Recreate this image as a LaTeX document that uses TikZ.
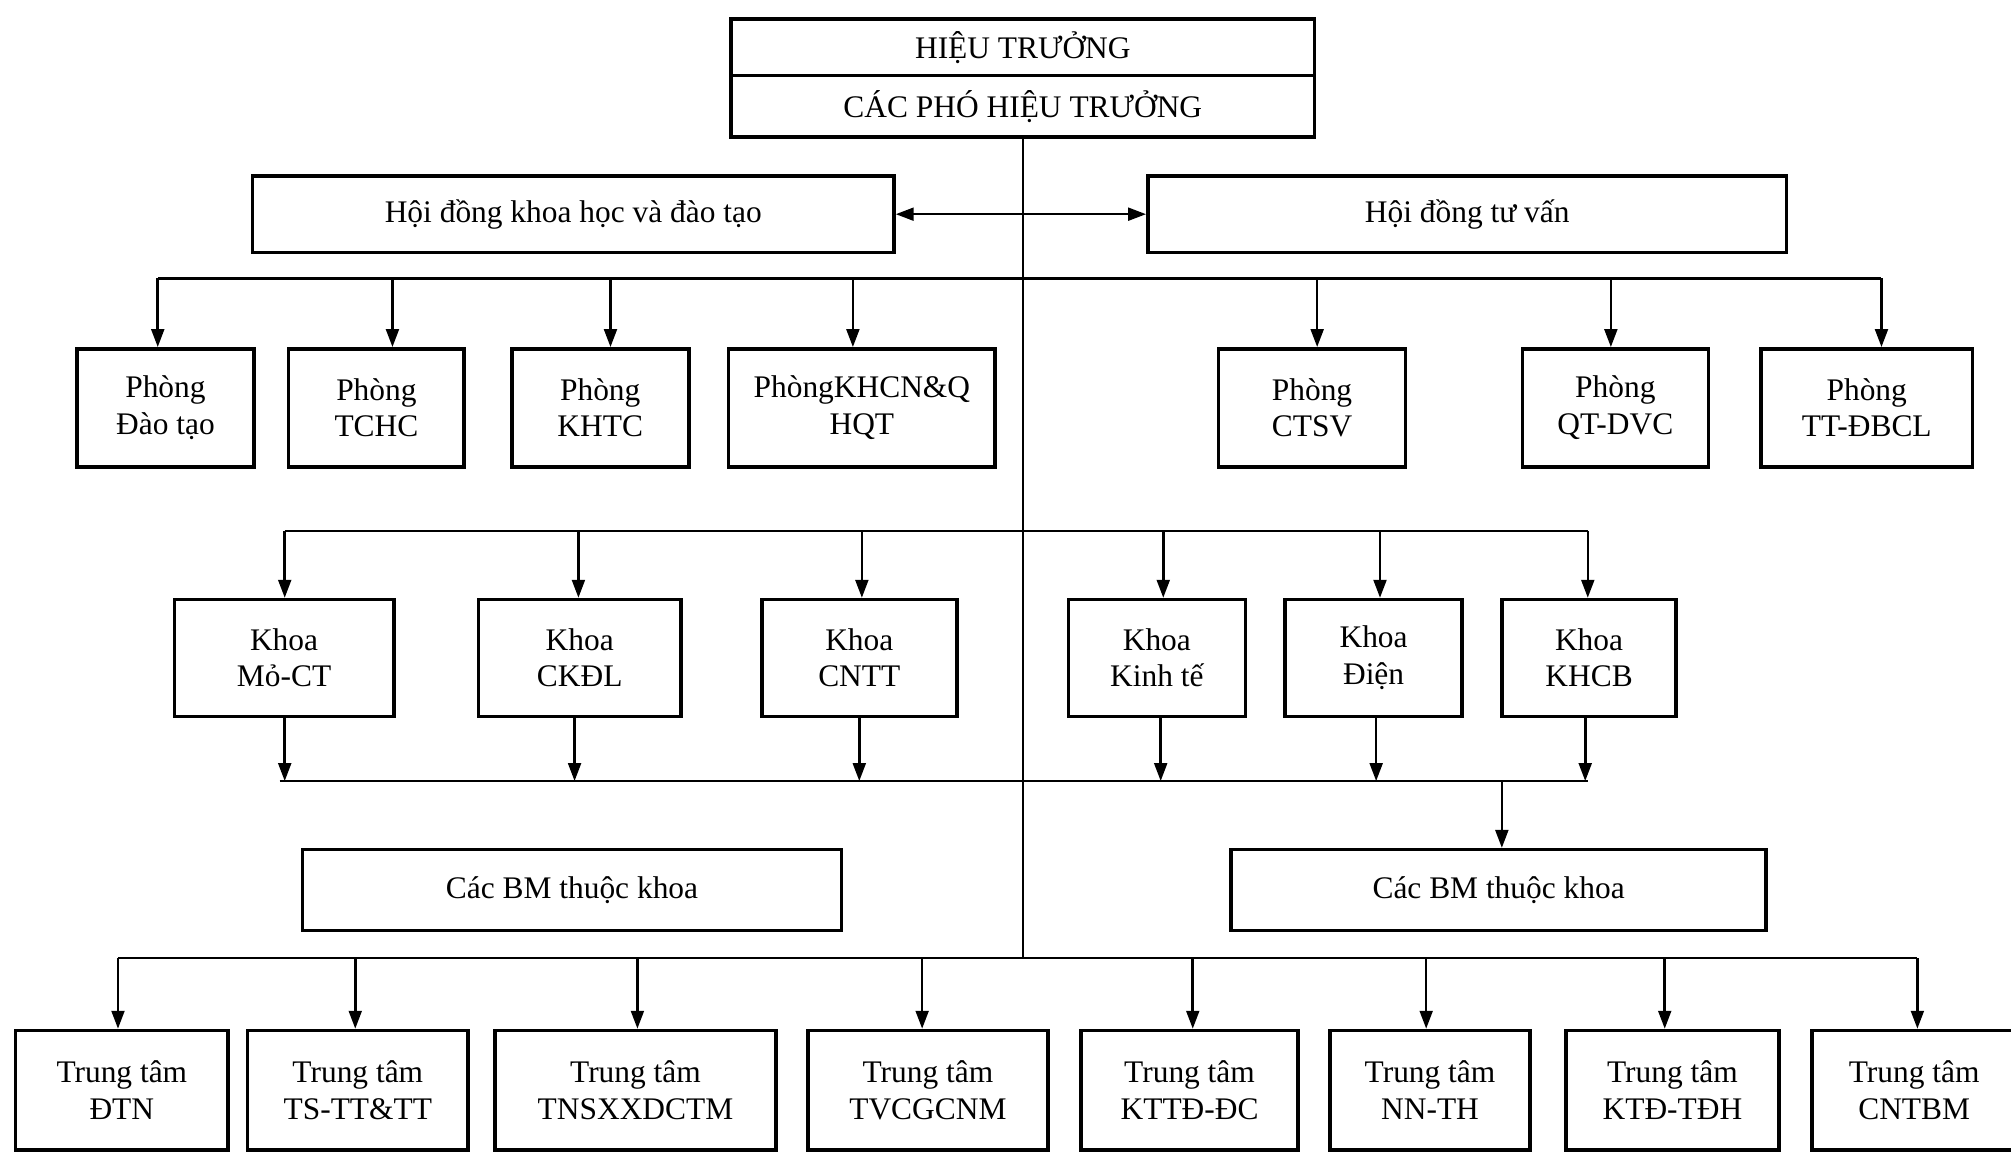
\documentclass[tikz,border=0pt]{standalone}
\usepackage{fontspec}
\setmainfont{Liberation Serif}
\usetikzlibrary{arrows.meta}
\begin{document}
\begin{tikzpicture}[x=1pt,y=-1pt,
  box/.style={draw=black, line width=2.8pt, rectangle, align=center, inner sep=0pt,
              font=\fontsize{24.5}{28.5}\selectfont},
  conn/.style={line width=2pt, draw=black},
  arr/.style={conn, -{Triangle[length=14pt,width=10pt]}},
  darr/.style={conn, {Triangle[length=14pt,width=10pt]}-{Triangle[length=14pt,width=10pt]}}]
\useasboundingbox (0,0) rectangle (1568,911);
\fill[white] (0,0) rectangle (1568,911);
\clip (0,0) rectangle (1568,911);

% top
\node[box, minimum width=455pt, minimum height=44pt] (ht) at (797.5,37) {HIỆU TRƯỞNG};
\node[box, minimum width=455pt, minimum height=48pt] (pht) at (797.5,83) {CÁC PHÓ HIỆU TRƯỞNG};

% councils
\node[box, minimum width=500pt, minimum height=60pt] (hdkh) at (447,167) {Hội đồng khoa học và đào tạo};
\node[box, minimum width=498pt, minimum height=60pt] (hdtv) at (1144,167) {Hội đồng tư vấn};
\draw[darr] (hdkh.east) -- (hdtv.west);

% row 1
\node[box, minimum width=138pt, minimum height=92pt] (pdt) at (129,318) {Phòng\\Đào tạo};
\node[box, minimum width=137pt, minimum height=92pt] (ptchc) at (293.5,318) {Phòng\\TCHC};
\node[box, minimum width=138pt, minimum height=92pt] (pkhtc) at (468,318) {Phòng\\KHTC};
\node[box, minimum width=208pt, minimum height=92pt] (pkhcn) at (672,318) {PhòngKHCN\&Q\\HQT};
\node[box, minimum width=146pt, minimum height=92pt] (pctsv) at (1023,318) {Phòng\\CTSV};
\node[box, minimum width=145pt, minimum height=92pt] (pqt) at (1259.5,318) {Phòng\\QT-DVC};
\node[box, minimum width=165pt, minimum height=92pt] (ptt) at (1455.5,318) {Phòng\\TT-ĐBCL};

% row 2
\node[box, minimum width=171pt, minimum height=91pt] (kmo) at (221.5,513) {Khoa\\Mỏ-CT};
\node[box, minimum width=158pt, minimum height=91pt] (kck) at (452,513) {Khoa\\CKĐL};
\node[box, minimum width=152pt, minimum height=91pt] (kcntt) at (670,513) {Khoa\\CNTT};
\node[box, minimum width=138pt, minimum height=91pt] (kkt) at (902,513) {Khoa\\Kinh tế};
\node[box, minimum width=138pt, minimum height=91pt] (kd) at (1071,513) {Khoa\\Điện};
\node[box, minimum width=136pt, minimum height=91pt] (kkhcb) at (1239,513) {Khoa\\KHCB};

% BM
\node[box, minimum width=420pt, minimum height=63pt] (bml) at (446,694) {Các BM thuộc khoa};
\node[box, minimum width=417pt, minimum height=63pt] (bmr) at (1168.5,694) {Các BM thuộc khoa};

% row 4
\node[box, minimum width=166pt, minimum height=93pt] (t1) at (95,850) {Trung tâm\\ĐTN};
\node[box, minimum width=172pt, minimum height=93pt] (t2) at (279,850) {Trung tâm\\TS-TT\&TT};
\node[box, minimum width=219pt, minimum height=93pt] (t3) at (495.5,850) {Trung tâm\\TNSXXDCTM};
\node[box, minimum width=187pt, minimum height=93pt] (t4) at (723.5,850) {Trung tâm\\TVCGCNM};
\node[box, minimum width=169pt, minimum height=93pt] (t5) at (927.5,850) {Trung tâm\\KTTĐ-ĐC};
\node[box, minimum width=156pt, minimum height=93pt] (t6) at (1115,850) {Trung tâm\\NN-TH};
\node[box, minimum width=166pt, minimum height=93pt] (t7) at (1304,850) {Trung tâm\\KTĐ-TĐH};
\node[box, minimum width=159pt, minimum height=93pt] (t8) at (1492.5,850) {Trung tâm\\CNTBM};

% buses
\coordinate (b1L) at (123,217);  \coordinate (b1R) at (1467,217);
\coordinate (b2L) at (222,414);  \coordinate (b2R) at (1238,414);
\coordinate (b3L) at (218,609);  \coordinate (b3R) at (1238,609);
\coordinate (b4L) at (92,747);   \coordinate (b4R) at (1495,747);

% trunk
\draw[conn] (pht.south) -- (pht.south |- b4L);

\draw[conn] (b1L) -- (b1R);
\draw[conn] (b2L) -- (b2R);
\draw[conn] (b3L) -- (b3R);
\draw[conn] (b4L) -- (b4R);

\foreach \x/\n in {123/pdt,306/ptchc,476/pkhtc,665/pkhcn,1027/pctsv,1256/pqt,1467/ptt}{
  \coordinate (tmp) at (\x,0);
  \draw[arr] (tmp |- b1L) -- (tmp |- \n.north);
}
\foreach \x/\n in {222/kmo,451/kck,672/kcntt,907/kkt,1076/kd,1238/kkhcb}{
  \coordinate (tmp) at (\x,0);
  \draw[arr] (tmp |- b2L) -- (tmp |- \n.north);
}
\foreach \x/\n in {222/kmo,448/kck,670/kcntt,905/kkt,1073/kd,1236/kkhcb}{
  \coordinate (tmp) at (\x,0);
  \draw[arr] (tmp |- \n.south) -- (tmp |- b3L);
}
\coordinate (tbm) at (1171,0);
\draw[arr] (tbm |- b3L) -- (tbm |- bmr.north);

\foreach \x/\n in {92/t1,277/t2,497/t3,719/t4,930/t5,1112/t6,1298/t7,1495/t8}{
  \coordinate (tmp) at (\x,0);
  \draw[arr] (tmp |- b4L) -- (tmp |- \n.north);
}
\end{tikzpicture}
\end{document}
